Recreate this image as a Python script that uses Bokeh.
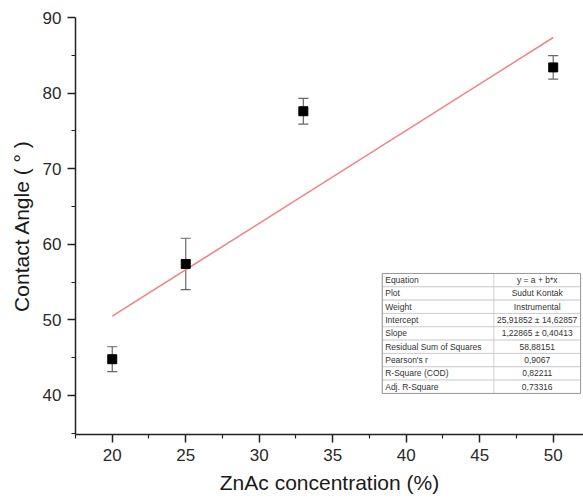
from bokeh.plotting import figure
from bokeh.models import Range1d, FixedTicker, Whisker, TeeHead, ColumnDataSource
from bokeh.embed import file_html
from bokeh.resources import INLINE
from bokeh.core.properties import value

# ---- data ----
conc = [20, 25, 33, 50]
angle = [44.8, 57.4, 77.6, 83.4]
err = [1.65, 3.4, 1.7, 1.55]
intercept = 25.91852
slope = 1.22865
fit_x = [20, 50]

x_ticks = [20, 25, 30, 35, 40, 45, 50]
y_ticks = [40, 50, 60, 70, 80, 90]

table_labels = ["Equation", "Plot", "Weight", "Intercept", "Slope",
                "Residual Sum of Squares", "Pearson's r", "R-Square (COD)",
                "Adj. R-Square"]
table_values = ["y = a + b*x", "Sudut Kontak", "Instrumental",
                "25,91852 \u00b1 14,62857", "1,22865 \u00b1 0,40413",
                "58,88151", "0,9067", "0,82211", "0,73316"]

FONT = "Liberation Sans"

p = figure(width=583, height=501, x_range=Range1d(17.5, 52.06),
           y_range=Range1d(34.84, 90), output_backend="svg",
           toolbar_location=None, min_border_left=75, min_border_right=0,
           min_border_top=17, min_border_bottom=67)
p.outline_line_color = None
p.xgrid.visible = False
p.ygrid.visible = False
p.background_fill_color = "white"
p.border_fill_color = "white"

# axes
p.xaxis.ticker = FixedTicker(ticks=x_ticks,
                             minor_ticks=[t - 2.5 for t in x_ticks] + [52.5])
p.yaxis.ticker = FixedTicker(ticks=y_ticks,
                             minor_ticks=[t - 5 for t in y_ticks])
for ax in (p.xaxis[0], p.yaxis[0]):
    ax.axis_line_color = "#222222"
    ax.axis_line_width = 1.5
    ax.major_tick_line_color = "#222222"
    ax.minor_tick_line_color = "#222222"
    ax.major_tick_line_width = 1.5
    ax.minor_tick_line_width = 1.2
    ax.major_tick_in = 0
    ax.major_tick_out = 8
    ax.minor_tick_in = 0
    ax.minor_tick_out = 4
    ax.major_label_text_font = FONT
    ax.major_label_text_font_size = "17px"
    ax.major_label_text_color = "#2a2a2a"
    ax.major_label_standoff = 6
    ax.axis_label_text_font = FONT
    ax.axis_label_text_font_size = "21px"
    ax.axis_label_text_font_style = "normal"
    ax.axis_label_text_color = "#1a1a1a"
    ax.axis_label_standoff = 7
p.xaxis.axis_label = "ZnAc concentration (%)"
p.yaxis.axis_label = "Contact Angle ( \u00b0 )"

# fit line
fit_y = [intercept + slope * x for x in fit_x]
p.line(fit_x, fit_y, line_color="#F08484", line_width=1.6)

# error bars and points
src = ColumnDataSource(dict(x=conc, y=angle,
                            lower=[a - e for a, e in zip(angle, err)],
                            upper=[a + e for a, e in zip(angle, err)]))
wh = Whisker(source=src, base="x", lower="lower", upper="upper",
             line_color="#666666", line_width=1.2, level="underlay",
             upper_head=TeeHead(size=10, line_color="#666666", line_width=1.2),
             lower_head=TeeHead(size=10, line_color="#666666", line_width=1.2))
p.add_layout(wh)
p.scatter("x", "y", source=src, marker="square", size=9,
          fill_color="black", line_color="black")

# statistics table (annotation, in data units)
tx0, tsplit, tx1 = 38.37, 45.96, 51.86
ty_top, row_h = 56.14, 1.763
n = len(table_labels)
tops = [ty_top - i * row_h for i in range(n)]
bots = [t - row_h for t in tops]
p.quad(left=[tx0] * n, right=[tx1] * n, top=tops, bottom=bots,
       fill_color="white", line_color="#c8c8c8", line_width=0.8)
p.segment(x0=[tsplit], y0=[ty_top], x1=[tsplit], y1=[ty_top - n * row_h],
          line_color="#c8c8c8", line_width=0.8)
p.quad(left=[tx0], right=[tx1], top=[ty_top], bottom=[ty_top - n * row_h],
       fill_color=None, line_color="#9a9a9a", line_width=1)
mids = [t - row_h / 2 for t in tops]
p.text(x=[tx0 + 0.2] * n, y=mids, text=table_labels,
       text_font=value(FONT), text_font_size="8.5px", text_color="#333333",
       text_baseline="middle", text_align="left")
p.text(x=[(tsplit + tx1) / 2] * n, y=mids, text=table_values,
       text_font=value(FONT), text_font_size="8.5px", text_color="#333333",
       text_baseline="middle", text_align="center")

open("out.html", "w").write(file_html(p, INLINE))
